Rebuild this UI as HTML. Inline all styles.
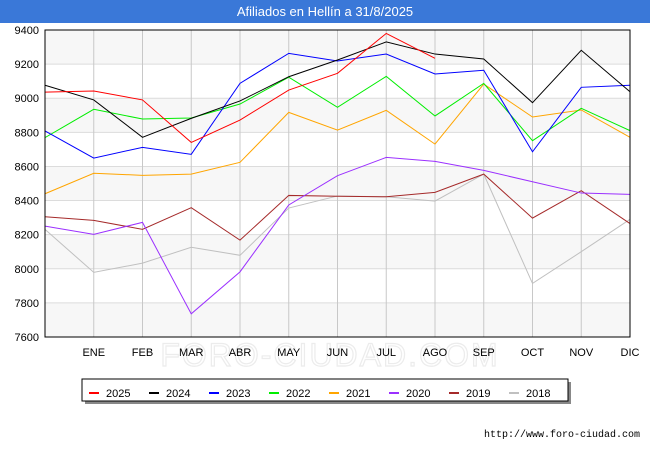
<!DOCTYPE html>
<html><head><meta charset="utf-8"><style>
body{margin:0;background:#fff;font-family:"Liberation Sans",sans-serif}
#wrap{position:relative;width:650px;height:450px}
</style></head><body>
<div id="wrap">
<svg id="chart" width="650" height="450"></svg>
</div>
<script>
const months=["ENE","FEB","MAR","ABR","MAY","JUN","JUL","AGO","SEP","OCT","NOV","DIC"];
const yTicks=[7600,7800,8000,8200,8400,8600,8800,9000,9200,9400];
const seriesNames=["2025","2024","2023","2022","2021","2020","2019","2018"];
const seriesColors=["#ff0000","#000000","#0000ff","#00ee00","#ffa500","#9b30ff","#a52a2a","#c0c0c0"];
const s2025=[9036,9042,8990,8741,8872,9048,9146,9380,9234];
const s2024=[9076,8990,8771,8882,8984,9126,9224,9330,9259,9230,8974,9281,9038];
const s2023=[8808,8649,8712,8671,9087,9263,9218,9259,9142,9164,8686,9064,9076];
const s2022=[8769,8935,8878,8884,8966,9123,8947,9128,8896,9087,8751,8941,8810];
const s2021=[8440,8560,8548,8555,8624,8917,8813,8929,8731,9083,8890,8931,8771];
const s2020=[8250,8202,8272,7736,7982,8374,8546,8653,8630,8577,8510,8444,8436];
const s2019=[8305,8284,8231,8358,8168,8430,8425,8422,8448,8555,8297,8458,8265];
const s2018=[8231,7979,8033,8126,8079,8356,8427,8422,8397,8555,7914,8100,8290];
const allSeries=[s2025,s2024,s2023,s2022,s2021,s2020,s2019,s2018];

const NS="http://www.w3.org/2000/svg";
const svg=document.getElementById('chart');
const L=45,R=630,T=30,B=337,yMin=7600,yMax=9400;
const xS=i=>L+i*(R-L)/12;
const yS=v=>B-(v-yMin)/(yMax-yMin)*(B-T);
function mk(tag,attrs,parent){const e=document.createElementNS(NS,tag);for(const k in attrs)e.setAttribute(k,attrs[k]);(parent||svg).appendChild(e);return e;}

let tb=mk('rect',{x:0,y:0,width:650,height:23,fill:'#3a78d8'});


let tt=mk('text',{x:325,y:16,'text-anchor':'middle','font-size':13,fill:'#fff'});
tt.textContent='Afiliados en Hellín a 31/8/2025';



let wm=mk('text',{x:330,y:366,'text-anchor':'middle','font-size':32,fill:'none',stroke:'#ececec','stroke-width':1.2,'letter-spacing':2});
wm.textContent='FORO-CIUDAD.COM';



for(let k=0;k<yTicks.length-1;k++){
  if(k%2===0){
    let b=mk('rect',{x:L,y:yS(yTicks[k+1]),width:R-L,height:yS(yTicks[k])-yS(yTicks[k+1]),fill:'#f7f7f7'});
    
    
  }
}
yTicks.forEach(v=>{
  let g=mk('line',{x1:L,x2:R,y1:yS(v),y2:yS(v),stroke:'#dcdcdc','stroke-width':1});
  
  
  let t=mk('text',{x:L-6,y:yS(v)+4,'text-anchor':'end','font-size':11,fill:'#000'});
  t.textContent=v;
  
  
});
months.forEach((m,i)=>{
  let g=mk('line',{x1:xS(i+1),x2:xS(i+1),y1:T,y2:B,stroke:'#c8c8c8','stroke-width':1});
  
  
  let t=mk('text',{x:xS(i+1),y:356,'text-anchor':'middle','font-size':11,fill:'#000'});
  t.textContent=m;
  
  
});

for(let s=allSeries.length-1;s>=0;s--){
  const pts=allSeries[s].map((v,i)=>xS(i)+','+yS(v)).join(' ');
  let p=mk('polyline',{points:pts,fill:'none',stroke:seriesColors[s],'stroke-width':1});
  
  
}
let fr=mk('rect',{x:L,y:T,width:R-L,height:B-T,fill:'none',stroke:'#000','stroke-width':1});



let lsh=mk('rect',{x:85,y:382,width:486,height:22,fill:'#888'});


let lb=mk('rect',{x:82,y:379,width:486,height:22,fill:'#fff',stroke:'#000','stroke-width':1});


seriesNames.forEach((n,i)=>{
  const x0=89+i*60;
  let ln=mk('line',{x1:x0,x2:x0+10,y1:393,y2:393,stroke:seriesColors[i],'stroke-width':2});
  
  
  let t=mk('text',{x:x0+17,y:397,'font-size':11,fill:'#000'});
  t.textContent=n;
  
  
});
let url=mk('text',{x:640,y:437,'text-anchor':'end','font-size':10,fill:'#000','font-family':'Liberation Mono, monospace'});
url.textContent='http://www.foro-ciudad.com';


</script>
</body></html>
